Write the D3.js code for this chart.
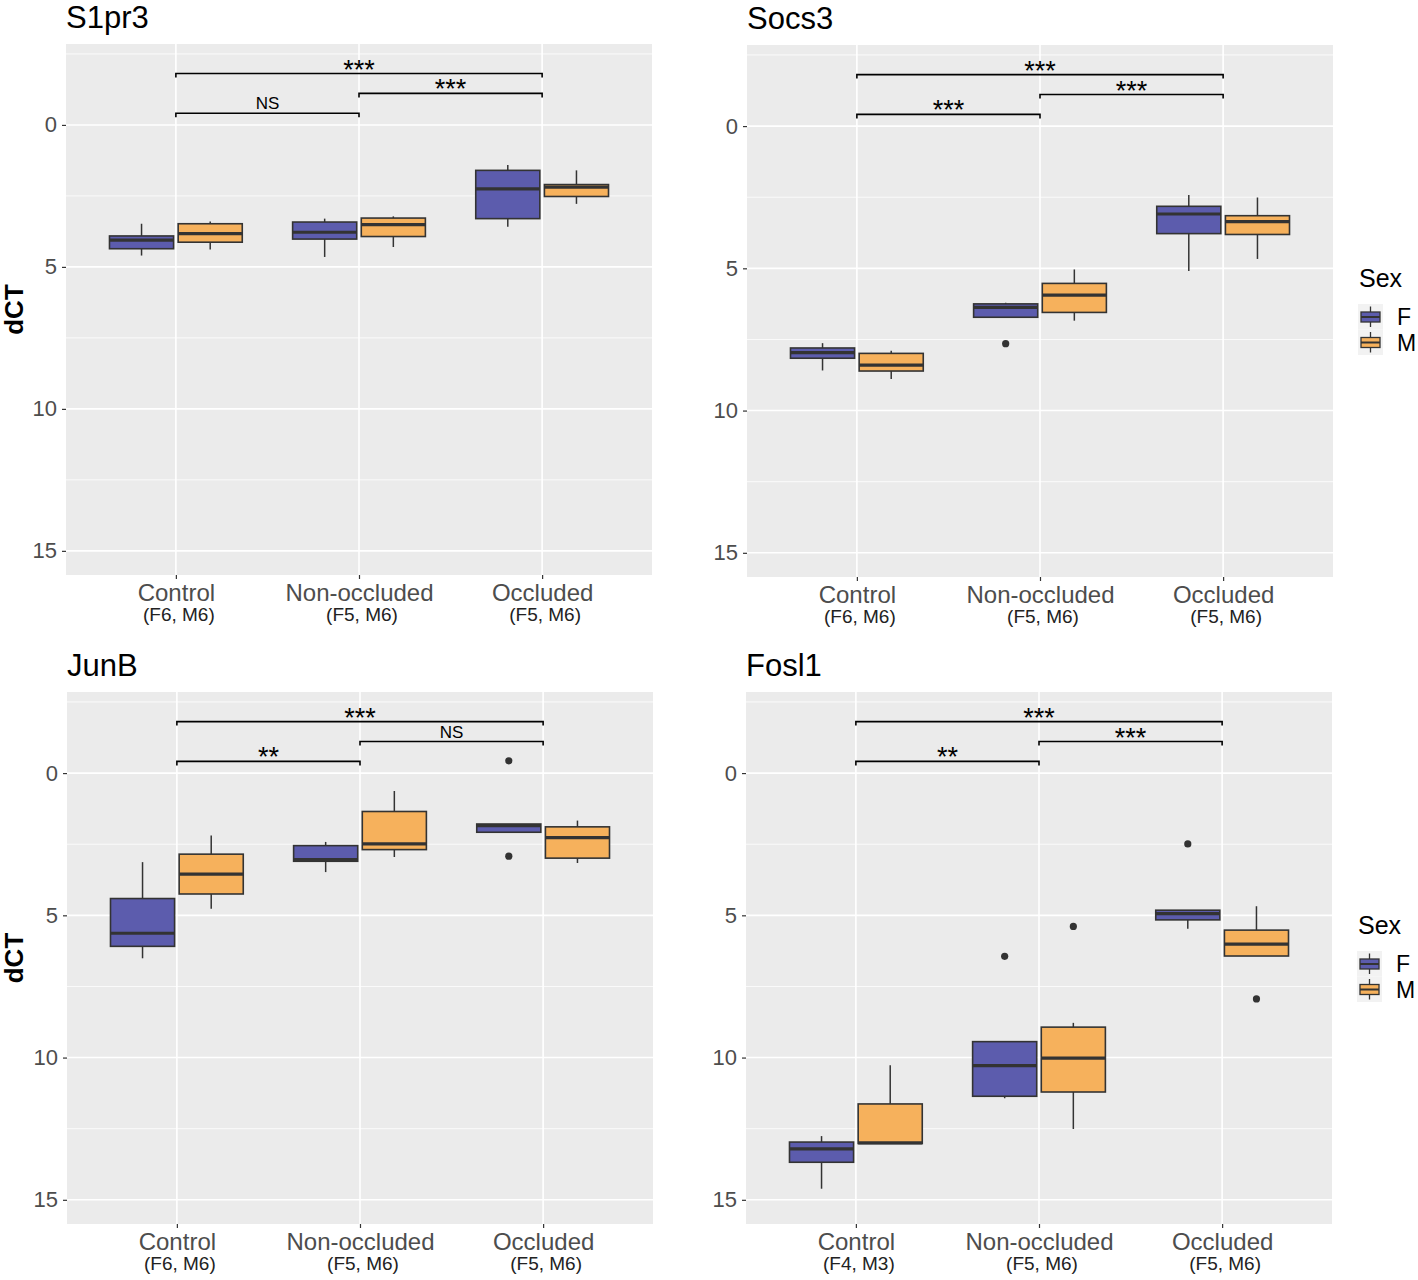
<!DOCTYPE html>
<html><head><meta charset="utf-8">
<script src="https://cdn.jsdelivr.net/npm/d3@7"></script>
<style>
body{margin:0;background:#fff;}
svg{display:block;font-family:"Liberation Sans",Arial,sans-serif;}
</style>
</head><body>
<svg id="chart" width="1418" height="1280"></svg>
<script>
// ---------- data ----------
const categories = ["Control", "Non-occluded", "Occluded"];
const sexes = ["F", "M"];
const yTicks = [0, 5, 10, 15];
const yMinorTicks = [-2.5, 2.5, 7.5, 12.5];
const yDomain = [-2.85, 15.85];
const pairs = [[0, 1], [1, 2], [0, 2]];
const bracketLevels = [-0.41, -1.11, -1.81];

// box statistics per category: [lower whisker, Q1, median, Q3, upper whisker] (dCT)
const s1pr3Counts = ["(F6, M6)", "(F5, M6)", "(F5, M6)"];
const s1pr3F = [[3.48, 3.91, 4.06, 4.36, 4.60], [3.30, 3.42, 3.78, 4.02, 4.65], [1.41, 1.60, 2.25, 3.30, 3.59]];
const s1pr3M = [[3.40, 3.48, 3.83, 4.13, 4.39], [3.22, 3.28, 3.51, 3.93, 4.30], [1.60, 2.10, 2.19, 2.52, 2.78]];
const s1pr3Outliers = [];
const s1pr3Signif = ["NS", "***", "***"];

const socs3Counts = ["(F6, M6)", "(F5, M6)", "(F5, M6)"];
const socs3F = [[7.63, 7.80, 7.96, 8.16, 8.59], [6.21, 6.25, 6.37, 6.72, 6.74], [2.42, 2.82, 3.09, 3.78, 5.09]];
const socs3M = [[7.90, 7.99, 8.40, 8.61, 8.89], [5.04, 5.53, 5.94, 6.55, 6.84], [2.51, 3.15, 3.36, 3.81, 4.67]];
const socs3Outliers = [{cat: "Non-occluded", sex: "F", value: 7.65}];
const socs3Signif = ["***", "***", "***"];

const junbCounts = ["(F6, M6)", "(F5, M6)", "(F5, M6)"];
const junbF = [[3.13, 4.41, 5.63, 6.09, 6.51], [2.42, 2.55, 3.04, 3.10, 3.48], [1.79, 1.79, 1.85, 2.08, 2.08]];
const junbM = [[2.19, 2.85, 3.55, 4.25, 4.77], [0.63, 1.35, 2.49, 2.69, 2.95], [1.67, 1.89, 2.27, 2.99, 3.16]];
const junbOutliers = [{cat: "Occluded", sex: "F", value: -0.43}, {cat: "Occluded", sex: "F", value: 2.92}];
const junbSignif = ["**", "NS", "***"];

const fosl1Counts = ["(F4, M3)", "(F5, M6)", "(F5, M6)"];
const fosl1F = [[12.76, 12.97, 13.21, 13.68, 14.61], [9.44, 9.44, 10.28, 11.36, 11.43], [4.82, 4.82, 4.94, 5.16, 5.47]];
const fosl1M = [[10.27, 11.63, 13.00, 13.02, 13.02], [8.78, 8.93, 10.02, 11.21, 12.51], [4.68, 5.52, 6.01, 6.43, 6.43]];
const fosl1Outliers = [
  {cat: "Non-occluded", sex: "F", value: 6.44},
  {cat: "Non-occluded", sex: "M", value: 5.39},
  {cat: "Occluded", sex: "F", value: 2.49},
  {cat: "Occluded", sex: "M", value: 7.94}
];
const fosl1Signif = ["**", "***", "***"];

// ---------- styles ----------
const fillColor = {F: "#5c5cad", M: "#f6b15c"};
const ink = "#333333";

const panels = [
  {gene: "S1pr3", counts: s1pr3Counts, F: s1pr3F, M: s1pr3M, outliers: s1pr3Outliers, signif: s1pr3Signif,
   box: {left: 66, top: 44, right: 652, bottom: 575}, yTitle: true, legend: false},
  {gene: "Socs3", counts: socs3Counts, F: socs3F, M: socs3M, outliers: socs3Outliers, signif: socs3Signif,
   box: {left: 747, top: 45, right: 1333, bottom: 577}, yTitle: false, legend: true},
  {gene: "JunB", counts: junbCounts, F: junbF, M: junbM, outliers: junbOutliers, signif: junbSignif,
   box: {left: 67, top: 692, right: 653, bottom: 1224}, yTitle: true, legend: false},
  {gene: "Fosl1", counts: fosl1Counts, F: fosl1F, M: fosl1M, outliers: fosl1Outliers, signif: fosl1Signif,
   box: {left: 746, top: 692, right: 1332, bottom: 1224}, yTitle: false, legend: true}
];

const svg = d3.select("#chart");

function drawPanel(p) {
  const b = p.box;
  const g = svg.append("g");
  const x = d3.scalePoint().domain(categories).range([b.left, b.right]).padding(0.6);
  const step = x.step();
  const dodge = d3.scaleBand().domain(sexes).range([-0.375 * step, 0.375 * step]);
  const boxW = 0.35 * step;
  const y = d3.scaleLinear().domain(yDomain).range([b.top, b.bottom]);

  // background
  g.append("rect").attr("x", b.left).attr("y", b.top)
    .attr("width", b.right - b.left).attr("height", b.bottom - b.top).attr("fill", "#ebebeb");
  // minor gridlines
  g.selectAll(".minor").data(yMinorTicks).join("line")
    .attr("x1", b.left).attr("x2", b.right).attr("y1", d => y(d)).attr("y2", d => y(d))
    .attr("stroke", "#fff").attr("stroke-width", 0.8);
  // major gridlines
  g.selectAll(".major").data(yTicks).join("line")
    .attr("x1", b.left).attr("x2", b.right).attr("y1", d => y(d)).attr("y2", d => y(d))
    .attr("stroke", "#fff").attr("stroke-width", 1.6);
  g.selectAll(".vmajor").data(categories).join("line")
    .attr("x1", d => x(d)).attr("x2", d => x(d)).attr("y1", b.top).attr("y2", b.bottom)
    .attr("stroke", "#fff").attr("stroke-width", 1.6);

  // y axis
  const ya = g.append("g").attr("transform", `translate(${b.left},0)`)
    .call(d3.axisLeft(y).tickValues(yTicks).tickSize(4).tickPadding(5));
  ya.select(".domain").remove();
  ya.selectAll(".tick line").attr("stroke", ink).attr("stroke-width", 1.2);
  ya.selectAll(".tick text").attr("fill", "#4d4d4d").attr("font-size", 22)
    .attr("font-family", "Liberation Sans, Arial, sans-serif");

  // x axis
  const xa = g.append("g").attr("transform", `translate(0,${b.bottom})`)
    .call(d3.axisBottom(x).tickSize(4));
  xa.select(".domain").remove();
  xa.selectAll(".tick line").attr("stroke", ink).attr("stroke-width", 1.2);
  xa.selectAll(".tick text").attr("fill", "#4d4d4d").attr("font-size", 24)
    .attr("font-family", "Liberation Sans, Arial, sans-serif")
    .attr("y", 26).attr("dy", null);
  g.selectAll(".count").data(p.counts).join("text")
    .attr("x", (d, i) => x(categories[i]) + 3).attr("y", b.bottom + 46)
    .attr("text-anchor", "middle").attr("font-size", 19).attr("fill", "#222")
    .text(d => d);

  // boxes
  const rows = categories.flatMap((c, i) => sexes.map(s => ({cat: c, sex: s, st: p[s][i]})));
  const bx = g.selectAll(".bx").data(rows).join("g");
  const cx = d => x(d.cat) + dodge(d.sex) + dodge.bandwidth() / 2;
  bx.append("line").attr("x1", cx).attr("x2", cx)
    .attr("y1", d => y(d.st[0])).attr("y2", d => y(d.st[1]))
    .attr("stroke", ink).attr("stroke-width", 1.5);
  bx.append("line").attr("x1", cx).attr("x2", cx)
    .attr("y1", d => y(d.st[3])).attr("y2", d => y(d.st[4]))
    .attr("stroke", ink).attr("stroke-width", 1.5);
  bx.append("rect").attr("x", d => cx(d) - boxW / 2).attr("width", boxW)
    .attr("y", d => y(d.st[1])).attr("height", d => y(d.st[3]) - y(d.st[1]))
    .attr("fill", d => fillColor[d.sex]).attr("stroke", ink).attr("stroke-width", 1.6);
  bx.append("line").attr("x1", d => cx(d) - boxW / 2).attr("x2", d => cx(d) + boxW / 2)
    .attr("y1", d => y(d.st[2])).attr("y2", d => y(d.st[2]))
    .attr("stroke", ink).attr("stroke-width", 3.2);
  g.selectAll(".out").data(p.outliers).join("circle")
    .attr("cx", cx).attr("cy", d => y(d.value)).attr("r", 3.6).attr("fill", ink);

  // significance brackets
  const tick = 4;
  pairs.forEach((pr, k) => {
    const x1 = x(categories[pr[0]]), x2 = x(categories[pr[1]]);
    const yy = y(bracketLevels[k]);
    g.append("path")
      .attr("d", `M${x1},${yy + tick}L${x1},${yy}L${x2},${yy}L${x2},${yy + tick}`)
      .attr("fill", "none").attr("stroke", "#000").attr("stroke-width", 1.6);
    const lab = p.signif[k];
    const star = lab.includes("*");
    g.append("text").attr("x", (x1 + x2) / 2)
      .attr("y", star ? yy + 5 : yy - 4)
      .attr("text-anchor", "middle").attr("font-size", star ? 27 : 17).attr("fill", "#000")
      .text(lab);
  });

  // title
  g.append("text").attr("x", b.left).attr("y", b.top - 16)
    .attr("font-size", 31).attr("fill", "#000").text(p.gene);

  // y title
  if (p.yTitle) {
    g.append("text").attr("transform", `translate(23,${(b.top + b.bottom) / 2}) rotate(-90)`)
      .attr("text-anchor", "middle").attr("font-size", 26).attr("font-weight", "bold")
      .attr("fill", "#000").text("dCT");
  }

  // legend
  if (p.legend) {
    const lx = b.left + 611, ly = b.top;
    g.append("text").attr("x", lx + 1).attr("y", ly + 242).attr("font-size", 25).attr("fill", "#000").text("Sex");
    sexes.forEach((s, i) => {
      const ky = ly + 259 + i * 25.5;
      g.append("rect").attr("x", lx).attr("y", ky).attr("width", 25).attr("height", 25.5).attr("fill", "#f2f2f2");
      g.append("line").attr("x1", lx + 12.5).attr("x2", lx + 12.5).attr("y1", ky + 2.5).attr("y2", ky + 23)
        .attr("stroke", ink).attr("stroke-width", 1.3);
      g.append("rect").attr("x", lx + 3).attr("y", ky + 8).attr("width", 19).attr("height", 10)
        .attr("fill", fillColor[s]).attr("stroke", ink).attr("stroke-width", 1.3);
      g.append("line").attr("x1", lx + 3).attr("x2", lx + 22).attr("y1", ky + 13).attr("y2", ky + 13)
        .attr("stroke", ink).attr("stroke-width", 2);
      g.append("text").attr("x", lx + 39).attr("y", ky + 13).attr("dy", "0.36em")
        .attr("font-size", 23).attr("fill", "#000").text(s);
    });
  }
}

panels.forEach(drawPanel);
</script>
</body></html>
